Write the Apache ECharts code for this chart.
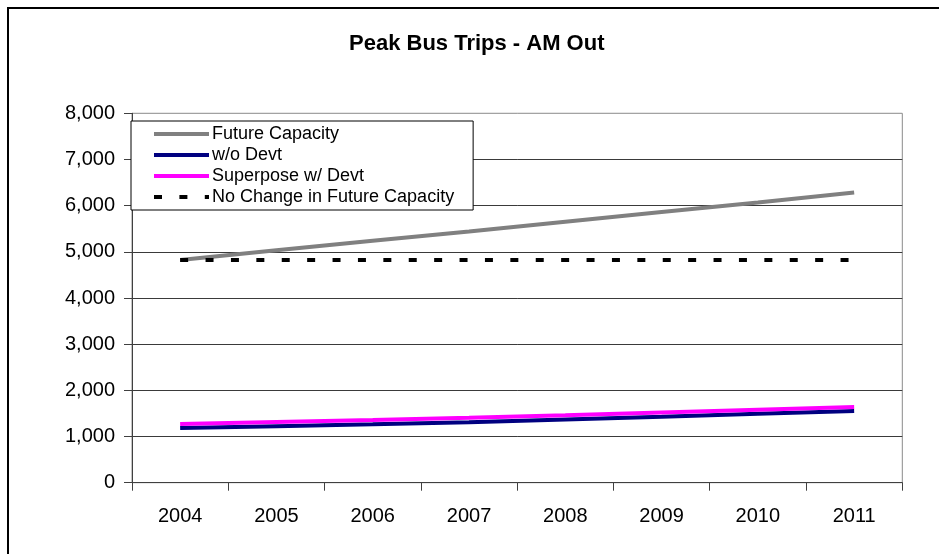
<!DOCTYPE html>
<html>
<head>
<meta charset="utf-8">
<script src="https://cdn.jsdelivr.net/npm/echarts@6/dist/echarts.min.js"></script>
<style>
  html, body { margin: 0; padding: 0; background: #fff; }
  #chart { width: 939px; height: 554px; }
</style>
</head>
<body>
<div id="chart"></div>
<script>
// Years on the category axis
const years = ['2004', '2005', '2006', '2007', '2008', '2009', '2010', '2011'];

// Peak bus trips, AM outbound
const futureCapacity = [4825, 5035, 5240, 5440, 5650, 5860, 6070, 6285];
const withoutDevt = [1185, 1225, 1265, 1310, 1370, 1430, 1492, 1554];
const superposeDevt = [1272, 1315, 1359, 1405, 1460, 1520, 1580, 1640];
const noChangeCapacity = [4825, 4825, 4825, 4825, 4825, 4825, 4825, 4825];

const seriesNames = [
  'Future Capacity',
  'w/o Devt',
  'Superpose w/ Devt',
  'No Change in Future Capacity'
];

const FONT = '"Liberation Sans", Arial, Helvetica, sans-serif';

const chart = echarts.init(document.getElementById('chart'), null, { renderer: 'canvas' });

function lineSeries(name, data, color, type) {
  return {
    name: name,
    type: 'line',
    data: data,
    symbol: 'none',
    showSymbol: false,
    animation: false,
    lineStyle: { color: color, width: 4, type: type || 'solid', cap: 'butt' },
    itemStyle: { color: color }
  };
}

chart.setOption({
  animation: false,
  backgroundColor: '#fff',
  textStyle: { fontFamily: FONT },
  title: {
    text: 'Peak Bus Trips - AM Out',
    left: 349,
    top: 33,
    padding: 0,
    textStyle: { fontFamily: FONT, fontSize: 22, fontWeight: 'bold', color: '#000' }
  },
  graphic: [{
    type: 'rect',
    silent: true,
    z: -1,
    shape: { x: 8, y: 8, width: 1200, height: 1200 },
    style: { fill: 'none', stroke: '#000', lineWidth: 2 }
  }],
  legend: {
    orient: 'vertical',
    left: 131,
    top: 121,
    padding: [4, 19, 4, 21],
    itemWidth: 55,
    itemHeight: 14,
    itemGap: 3,
    backgroundColor: '#fff',
    borderColor: '#000',
    borderWidth: 1,
    z: 10,
    data: seriesNames,
    itemStyle: { opacity: 0 },
    lineStyle: { width: 4, cap: 'butt' },
    textStyle: { fontFamily: FONT, fontSize: 18, color: '#000', padding: [0, 0, 0, -2] }
  },
  grid: {
    left: 132,
    top: 113.3,
    right: 36.7,
    bottom: 71.3,
    show: true,
    borderColor: '#8a8a8a',
    borderWidth: 1,
    backgroundColor: 'transparent'
  },
  xAxis: {
    type: 'category',
    data: years,
    boundaryGap: true,
    axisLine: { lineStyle: { color: '#404040', width: 1 } },
    axisTick: { show: true, length: 8, inside: false, lineStyle: { color: '#404040' } },
    axisLabel: { fontFamily: FONT, fontSize: 20, color: '#000', margin: 24 },
    splitLine: { show: false }
  },
  yAxis: {
    type: 'value',
    min: 0,
    max: 8000,
    interval: 1000,
    axisLine: { show: true, lineStyle: { color: '#404040', width: 1 } },
    axisTick: { show: true, length: 8, inside: false, lineStyle: { color: '#404040' } },
    axisLabel: {
      fontFamily: FONT,
      fontSize: 20,
      color: '#000',
      margin: 17,
      formatter: function (v) { return v.toLocaleString('en-US'); }
    },
    splitLine: {
      show: true,
      showMaxLine: false,
      showMinLine: false,
      lineStyle: { color: '#3a3a3a', width: 1 }
    }
  },
  series: [
    lineSeries(seriesNames[0], futureCapacity, '#808080'),
    lineSeries(seriesNames[1], withoutDevt, '#000080'),
    lineSeries(seriesNames[2], superposeDevt, '#ff00ff'),
    lineSeries(seriesNames[3], noChangeCapacity, '#000000', [8, 17.4])
  ]
});
</script>
</body>
</html>
